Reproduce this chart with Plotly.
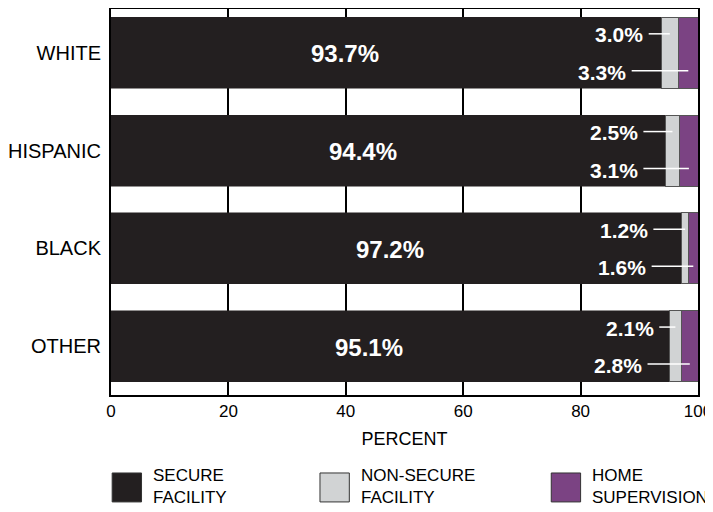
import plotly.graph_objects as go

# data
groups = ['WHITE', 'HISPANIC', 'BLACK', 'OTHER']
secure = [93.7, 94.4, 97.2, 95.1]
non_secure = [3.0, 2.5, 1.2, 2.1]
home = [3.3, 3.1, 1.6, 2.8]
x_ticks = [0, 20, 40, 60, 80, 100]

DARK = '#231f20'
GRAY = '#d1d3d4'
PURPLE = '#7b4383'
FONT = 'Liberation Sans, Arial, sans-serif'

# label placement (layout only, in axis units)
main_label_x = [39.8, 43.0, 47.5, 44.0]
top_label_end = [91.0, 90.1, 91.8, 92.8]
bot_label_end = [88.1, 90.1, 91.5, 90.8]

fig = go.Figure()
fig.add_trace(go.Bar(y=groups, x=secure, orientation='h', name='SECURE FACILITY',
                     marker=dict(color=DARK, line=dict(color=DARK, width=0.5))))
fig.add_trace(go.Bar(y=groups, x=non_secure, orientation='h', name='NON-SECURE FACILITY',
                     marker=dict(color=GRAY, line=dict(color='#555555', width=1))))
fig.add_trace(go.Bar(y=groups, x=home, orientation='h', name='HOME SUPERVISION',
                     marker=dict(color=PURPLE, line=dict(color='#555555', width=1))))
fig.update_traces(width=0.726, hoverinfo='skip')

annotations = []
shapes = []
for i, g in enumerate(groups):
    annotations.append(dict(x=main_label_x[i], y=i + 0.01, xref='x', yref='y',
                            text='<b>%.1f%%</b>' % secure[i], showarrow=False,
                            font=dict(family=FONT, size=24, color='white')))
    # upper label -> middle of non-secure segment
    annotations.append(dict(x=top_label_end[i], y=i - 0.185, xref='x', yref='y',
                            text='<b>%.1f%%</b>' % non_secure[i], showarrow=False,
                            xanchor='right', font=dict(family=FONT, size=21, color='white')))
    shapes.append(dict(type='line', xref='x', yref='y',
                       x0=top_label_end[i] + 0.6, x1=secure[i] + non_secure[i] / 2,
                       y0=i - 0.195, y1=i - 0.195, line=dict(color='white', width=1.5)))
    # lower label -> middle of home supervision segment
    annotations.append(dict(x=bot_label_end[i], y=i + 0.2, xref='x', yref='y',
                            text='<b>%.1f%%</b>' % home[i], showarrow=False,
                            xanchor='right', font=dict(family=FONT, size=21, color='white')))
    shapes.append(dict(type='line', xref='x', yref='y',
                       x0=bot_label_end[i] + 0.6, x1=secure[i] + non_secure[i] + home[i] / 2,
                       y0=i + 0.184, y1=i + 0.184, line=dict(color='white', width=1.5)))

# hand-drawn legend below the axis
legend_items = [('SECURE<br>FACILITY', DARK, 0.2),
                ('NON-SECURE<br>FACILITY', GRAY, 35.6),
                ('HOME<br>SUPERVISION', PURPLE, 75.0)]
for label, color, x0 in legend_items:
    shapes.append(dict(type='rect', xref='x', yref='paper', x0=x0, x1=x0 + 5.0,
                       y0=-0.277, y1=-0.202, fillcolor=color,
                       line=dict(color='#333333', width=1)))
    annotations.append(dict(x=x0 + 6.6, y=-0.238, xref='x', yref='paper', text=label,
                            showarrow=False, xanchor='left', yanchor='middle', align='left',
                            font=dict(family=FONT, size=17, color='black')))

# the page body adds an 8px offset, so the figure is sized to fit the window
fig.update_layout(
    barmode='stack',
    width=705, height=504,
    margin=dict(l=103, r=15, t=1, b=117),
    plot_bgcolor='white', paper_bgcolor='white',
    showlegend=False,
    annotations=annotations,
    shapes=shapes,
    font=dict(family=FONT, size=17, color='black'),
    xaxis=dict(range=[0, 100], tickvals=x_ticks, showgrid=True, gridcolor='black',
               gridwidth=2, zeroline=False, showline=True, mirror=True,
               linecolor='black', linewidth=2, ticks='', automargin=False,
               tickfont=dict(family=FONT, size=17),
               title=dict(text='PERCENT', font=dict(family=FONT, size=18), standoff=12)),
    yaxis=dict(range=[3.5, -0.449], showgrid=False, zeroline=False, showline=True,
               mirror=True, linecolor='black', linewidth=2, ticks='', automargin=False,
               ticklabelstandoff=4, tickfont=dict(family=FONT, size=20)),
)

fig.write_html('out.html')
